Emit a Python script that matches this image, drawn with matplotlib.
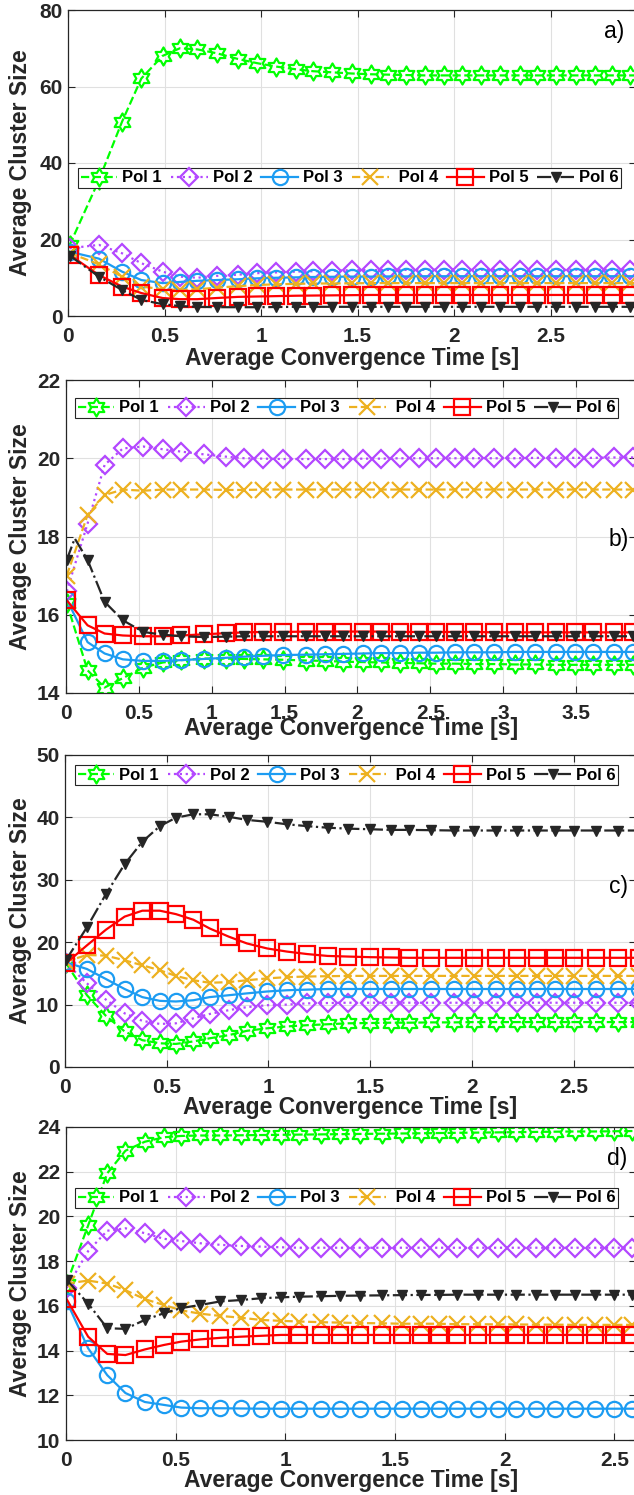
"""
average cluster size vs convergence time, four stacked panels a)-d)
output: out.png
"""

import numpy as np
import matplotlib

matplotlib.use("Agg")
import matplotlib.pyplot as plt
import matplotlib.transforms as mtransforms
from matplotlib.path import Path
from matplotlib.ticker import FuncFormatter

plt.rcParams["font.family"] = ["Liberation Sans", "DejaVu Sans"]
plt.rcParams["font.weight"] = "bold"
plt.rcParams["axes.labelweight"] = "bold"


# -- DATA --
labels = ["Pol 1", "Pol 2", "Pol 3", " Pol 4", "Pol 5", "Pol 6"]

# panel a)
x_a = [0.008, 0.16, 0.28, 0.38, 0.49, 0.58, 0.67, 0.77, 0.88, 0.98, 1.08,
       1.18, 1.27, 1.37, 1.47, 1.57, 1.66, 1.75, 1.85, 1.95, 2.04, 2.14,
       2.24, 2.34, 2.43, 2.53, 2.63, 2.73, 2.82, 2.91, 3.01]
a_pol1 = [18.5, 35.5, 50.8, 62.1, 68.0, 70.0, 69.7, 68.7, 67.2, 66.1, 65.2,
          64.5, 64.0, 63.7, 63.4, 63.2, 63.1, 63.0, 62.9, 62.9, 62.9, 62.9,
          62.9, 62.9, 62.9, 62.9, 62.9, 62.9, 62.9, 62.9, 62.9]
a_pol2 = [17.7, 18.6, 16.4, 13.8, 11.6, 10.3, 10.0, 10.5, 10.8, 11.2, 11.4,
          11.6, 11.7, 11.85, 12.0, 12.0, 12.05, 12.05, 12.1, 12.1, 12.1, 12.1,
          12.1, 12.1, 12.1, 12.1, 12.1, 12.1, 12.1, 12.1, 12.1]
a_pol3 = [16.8, 15.0, 11.6, 9.4, 8.6, 8.9, 9.2, 9.4, 9.6, 9.85, 10.0,
          10.1, 10.2, 10.25, 10.3, 10.3, 10.35, 10.35, 10.4, 10.4, 10.4, 10.4,
          10.4, 10.4, 10.4, 10.4, 10.4, 10.4, 10.4, 10.4, 10.4]
a_pol4 = [16.5, 13.5, 10.3, 7.7, 7.0, 6.8, 7.0, 7.4, 7.8, 8.1, 8.3,
          8.4, 8.5, 8.5, 8.55, 8.6, 8.6, 8.6, 8.6, 8.6, 8.6, 8.6,
          8.6, 8.6, 8.6, 8.6, 8.6, 8.6, 8.6, 8.6, 8.6]
a_pol5 = [16.0, 10.7, 7.7, 6.0, 4.7, 4.4, 4.4, 4.7, 5.0, 5.1, 5.2,
          5.3, 5.35, 5.4, 5.45, 5.5, 5.5, 5.5, 5.5, 5.5, 5.5, 5.5,
          5.5, 5.5, 5.5, 5.5, 5.5, 5.5, 5.5, 5.5, 5.5]
a_pol6 = [15.8, 10.3, 6.8, 4.2, 3.1, 2.6, 2.4, 2.3, 2.3, 2.3, 2.35,
          2.4, 2.4, 2.4, 2.4, 2.4, 2.4, 2.4, 2.4, 2.4, 2.4, 2.4,
          2.4, 2.4, 2.4, 2.4, 2.4, 2.4, 2.4, 2.4, 2.4]

# panel b)
x_b = [0.005, 0.148, 0.265, 0.39, 0.53, 0.665, 0.79, 0.945, 1.10, 1.225, 1.35,
       1.49, 1.65, 1.78, 1.90, 2.04, 2.16, 2.29, 2.42, 2.54, 2.67, 2.80,
       2.94, 3.08, 3.22, 3.36, 3.49, 3.62, 3.76, 3.89, 4.02]
b_pol1 = [16.3, 14.58, 14.14, 14.38, 14.65, 14.78, 14.84, 14.88, 14.88, 14.87, 14.86,
          14.85, 14.83, 14.82, 14.8, 14.79, 14.78, 14.77, 14.76, 14.75, 14.75, 14.74,
          14.74, 14.73, 14.73, 14.72, 14.72, 14.72, 14.72, 14.72, 14.72]
b_pol2 = [16.6, 18.33, 19.83, 20.25, 20.3, 20.23, 20.17, 20.1, 20.04, 20.0, 19.99,
          19.98, 19.98, 19.98, 19.98, 19.99, 19.99, 20.0, 20.0, 20.0, 20.0, 20.0,
          20.0, 20.0, 20.01, 20.01, 20.01, 20.01, 20.02, 20.02, 20.02]
b_pol3 = [16.4, 15.3, 15.01, 14.86, 14.82, 14.82, 14.84, 14.87, 14.9, 14.93, 14.95,
          14.97, 14.98, 14.99, 15.0, 15.01, 15.02, 15.02, 15.03, 15.03, 15.04, 15.04,
          15.04, 15.05, 15.05, 15.05, 15.05, 15.05, 15.05, 15.05, 15.05]
b_pol4 = [17.0, 18.55, 19.06, 19.2, 19.17, 19.2, 19.2, 19.2, 19.19, 19.19, 19.2,
          19.2, 19.2, 19.2, 19.2, 19.2, 19.2, 19.2, 19.2, 19.2, 19.2, 19.2,
          19.2, 19.2, 19.2, 19.2, 19.2, 19.2, 19.2, 19.2, 19.2]
b_pol5 = [16.37, 15.73, 15.52, 15.47, 15.45, 15.45, 15.47, 15.5, 15.53, 15.55, 15.56,
          15.56, 15.57, 15.57, 15.57, 15.57, 15.57, 15.56, 15.56, 15.56, 15.56, 15.56,
          15.55, 15.55, 15.55, 15.55, 15.55, 15.55, 15.55, 15.55, 15.55]
# Pol 6 in b) has an extra (unmarked) point at its early peak
x_b6 = [0.005, 0.06, 0.148, 0.265, 0.39, 0.53, 0.665, 0.79, 0.945, 1.10, 1.225,
        1.35, 1.49, 1.65, 1.78, 1.90, 2.04, 2.16, 2.29, 2.42, 2.54, 2.67,
        2.80, 2.94, 3.08, 3.22, 3.36, 3.49, 3.62, 3.76, 3.89, 4.02]
b_pol6 = [17.4, 17.95, 17.4, 16.33, 15.86, 15.56, 15.49, 15.45, 15.43, 15.44, 15.45,
          15.45, 15.45, 15.45, 15.45, 15.45, 15.45, 15.45, 15.45, 15.45, 15.45, 15.45,
          15.45, 15.45, 15.45, 15.45, 15.45, 15.45, 15.45, 15.45, 15.45, 15.45]

# panel c)
x_c = [0.004, 0.108, 0.201, 0.293, 0.380, 0.466, 0.545, 0.631, 0.711, 0.804,
       0.894, 0.993, 1.09, 1.19, 1.29, 1.39, 1.50, 1.60, 1.69, 1.80,
       1.91, 2.01, 2.12, 2.22, 2.32, 2.41, 2.50, 2.61, 2.72, 2.82]
c_pol1 = [16.7, 11.5, 8.2, 5.7, 4.3, 3.8, 3.7, 4.1, 4.6, 5.1,
          5.8, 6.2, 6.5, 6.7, 6.85, 7.0, 7.05, 7.1, 7.1, 7.15,
          7.15, 7.2, 7.2, 7.2, 7.2, 7.2, 7.2, 7.2, 7.2, 7.2]
c_pol2 = [16.7, 13.4, 10.8, 8.6, 7.4, 6.9, 7.0, 7.8, 8.5, 9.1,
          9.6, 9.9, 10.0, 10.2, 10.25, 10.3, 10.3, 10.3, 10.3, 10.3,
          10.3, 10.3, 10.3, 10.3, 10.3, 10.3, 10.3, 10.3, 10.3, 10.3]
c_pol3 = [16.8, 15.7, 14.1, 12.5, 11.2, 10.6, 10.5, 10.7, 11.2, 11.5,
          11.8, 12.1, 12.3, 12.4, 12.5, 12.5, 12.5, 12.5, 12.5, 12.5,
          12.5, 12.5, 12.5, 12.5, 12.5, 12.5, 12.5, 12.5, 12.5, 12.5]
c_pol4 = [16.9, 17.95, 17.85, 17.1, 16.3, 15.5, 14.6, 13.9, 13.5, 13.6,
          13.9, 14.2, 14.4, 14.5, 14.55, 14.6, 14.6, 14.6, 14.6, 14.6,
          14.6, 14.6, 14.6, 14.6, 14.6, 14.6, 14.6, 14.6, 14.6, 14.6]
c_pol5 = [16.6, 19.5, 22.0, 24.1, 25.05, 25.05, 24.5, 23.6, 22.2, 20.9,
          19.8, 19.0, 18.5, 18.1, 17.8, 17.7, 17.6, 17.55, 17.5, 17.5,
          17.5, 17.5, 17.5, 17.5, 17.5, 17.5, 17.5, 17.5, 17.5, 17.5]
c_pol6 = [17.1, 22.4, 27.7, 32.5, 36.1, 38.6, 39.95, 40.5, 40.5, 40.1,
          39.6, 39.3, 38.9, 38.6, 38.35, 38.2, 38.1, 38.0, 38.0, 37.95,
          37.9, 37.9, 37.9, 37.9, 37.9, 37.9, 37.9, 37.9, 37.9, 37.9]

# panel d)
x_d = [0.003, 0.101, 0.188, 0.271, 0.359, 0.446, 0.525, 0.612, 0.704, 0.796, 0.888,
       0.980, 1.06, 1.16, 1.25, 1.34, 1.44, 1.53, 1.62, 1.70, 1.78,
       1.88, 1.97, 2.05, 2.14, 2.23, 2.32, 2.41, 2.50, 2.58, 2.67]
d_pol1 = [17.0, 19.6, 21.93, 22.94, 23.34, 23.54, 23.6, 23.62, 23.62, 23.63, 23.64,
          23.65, 23.66, 23.67, 23.68, 23.69, 23.7, 23.71, 23.72, 23.73, 23.74,
          23.75, 23.76, 23.77, 23.78, 23.79, 23.8, 23.8, 23.81, 23.82, 23.82]
d_pol2 = [16.8, 18.45, 19.36, 19.47, 19.25, 19.0, 18.9, 18.8, 18.73, 18.68, 18.65,
          18.62, 18.6, 18.6, 18.6, 18.6, 18.6, 18.6, 18.6, 18.6, 18.6,
          18.6, 18.6, 18.6, 18.6, 18.6, 18.6, 18.6, 18.6, 18.6, 18.6]
d_pol3 = [16.2, 14.1, 12.9, 12.1, 11.7, 11.57, 11.45, 11.42, 11.42, 11.41, 11.4,
          11.4, 11.4, 11.4, 11.4, 11.4, 11.4, 11.4, 11.4, 11.4, 11.4,
          11.4, 11.4, 11.4, 11.4, 11.4, 11.4, 11.4, 11.4, 11.4, 11.4]
d_pol4 = [17.0, 17.13, 17.0, 16.7, 16.3, 16.04, 15.8, 15.65, 15.55, 15.47, 15.37,
          15.33, 15.3, 15.27, 15.25, 15.23, 15.22, 15.2, 15.2, 15.2, 15.18,
          15.18, 15.17, 15.17, 15.16, 15.16, 15.15, 15.15, 15.15, 15.15, 15.15]
d_pol5 = [16.3, 14.62, 13.85, 13.8, 14.05, 14.25, 14.4, 14.5, 14.57, 14.62, 14.66,
          14.7, 14.7, 14.7, 14.7, 14.7, 14.7, 14.7, 14.7, 14.7, 14.7,
          14.7, 14.7, 14.7, 14.7, 14.7, 14.7, 14.7, 14.7, 14.7, 14.7]
d_pol6 = [17.16, 16.1, 15.0, 14.97, 15.37, 15.67, 15.9, 16.04, 16.2, 16.26, 16.34,
          16.38, 16.41, 16.43, 16.45, 16.46, 16.47, 16.48, 16.49, 16.49, 16.5,
          16.5, 16.5, 16.5, 16.5, 16.5, 16.5, 16.5, 16.5, 16.5, 16.5]


# -- STYLE --
def hexagram():
    """six-pointed star outline, like MATLAB's 'hexagram' marker"""
    verts = []
    for k in range(6):
        ao = np.deg2rad(90 + 60 * k)
        ai = ao + np.deg2rad(30)
        verts.append((np.cos(ao), np.sin(ao)))
        verts.append((np.cos(ai) / np.sqrt(3), np.sin(ai) / np.sqrt(3)))
    verts.append(verts[0])
    return Path(verts, closed=True)


TEXT = "#262626"
series_style = [
    dict(color="#00FF00", ls="--", marker=hexagram(), ms=13, mfc="none", mew=1.6),
    dict(color="#B347FF", ls=":", marker="D", ms=9.5, mfc="none", mew=1.6),
    dict(color="#1C9CF2", ls="-", marker="o", ms=11, mfc="none", mew=1.6),
    dict(color="#EDB120", ls="--", marker="x", ms=12, mfc="none", mew=1.6),
    dict(color="#FF0000", ls="-", marker="s", ms=11, mfc="none", mew=1.6),
    dict(color=TEXT, ls="-.", marker="v", ms=7, mfc=TEXT, mew=1),
]

W, H = 634, 1495
fig = plt.figure(figsize=(W / 100, H / 100), dpi=100)

# layout in pixels of the reference (axes run slightly past the right edge)
panels = [
    dict(series=[(x_a, a_pol1), (x_a, a_pol2), (x_a, a_pol3), (x_a, a_pol4), (x_a, a_pol5), (x_a, a_pol6)],
         box=(68, 10, 636, 316), xmax=2.943, ylim=(0, 80), ystep=20, xtmax=2.5,
         legend=(78, 168), xlabel_top=347, letter="a)", letter_xy=(2.83, 74.5)),
    dict(series=[(x_b, b_pol1), (x_b, b_pol2), (x_b, b_pol3), (x_b, b_pol4), (x_b, b_pol5), (x_b6, b_pol6)],
         box=(66, 380, 636, 693), xmax=3.912, ylim=(14, 22), ystep=2, xtmax=3.5,
         legend=(75, 398), xlabel_top=717, letter="b)", letter_xy=(3.79, 17.93)),
    dict(series=[(x_c, c_pol1), (x_c, c_pol2), (x_c, c_pol3), (x_c, c_pol4), (x_c, c_pol5), (x_c, c_pol6)],
         box=(65, 755, 636, 1067), xmax=2.806, ylim=(0, 50), ystep=10, xtmax=2.5,
         legend=(75, 765), xlabel_top=1096, letter="c)", letter_xy=(2.72, 29.0)),
    dict(series=[(x_d, d_pol1), (x_d, d_pol2), (x_d, d_pol3), (x_d, d_pol4), (x_d, d_pol5), (x_d, d_pol6)],
         box=(66, 1127, 636, 1440), xmax=2.598, ylim=(10, 24), ystep=2, xtmax=2.5,
         legend=(75, 1188), xlabel_top=1469, letter="d)", letter_xy=(2.51, 22.57)),
]

fmt = FuncFormatter(lambda v, p: f"{v:g}")

for pnl in panels:
    l, t, r, b = pnl["box"]
    ax = fig.add_axes([l / W, 1 - b / H, (r - l) / W, (b - t) / H])

    handles = []
    for (xs, ys), st in zip(pnl["series"], series_style):
        every = None
        if xs is x_b6:
            every = [i for i in range(len(xs)) if i != 1]
        (ln,) = ax.plot(xs, ys, color=st["color"], ls=st["ls"], lw=1.6,
                        marker=st["marker"], ms=st["ms"], mfc=st["mfc"],
                        mec=st["color"], mew=st["mew"], markevery=every)
        handles.append(ln)

    ax.set_xlim(0, pnl["xmax"])
    ax.set_ylim(*pnl["ylim"])
    ax.set_xticks(np.arange(0, pnl["xtmax"] + 0.01, 0.5))
    ax.set_yticks(np.arange(pnl["ylim"][0], pnl["ylim"][1] + 0.01, pnl["ystep"]))
    ax.xaxis.set_major_formatter(fmt)
    ax.yaxis.set_major_formatter(fmt)

    ax.grid(True, color="#e0e0e0", lw=0.8)
    ax.set_axisbelow(True)
    for sp in ax.spines.values():
        sp.set_color(TEXT)
        sp.set_linewidth(0.9)
    ax.tick_params(direction="in", top=True, right=True, length=5, width=0.8,
                   color=TEXT, labelcolor=TEXT, labelsize=15)
    ax.tick_params(axis="x", pad=8)
    ax.tick_params(axis="y", pad=4)

    ax.set_xlabel("Average Convergence Time [s]", fontsize=16.5, fontweight="bold", color=TEXT)
    ax.xaxis.set_label_coords(
        0.5, 1 - pnl["xlabel_top"] / H,
        transform=mtransforms.blended_transform_factory(ax.transAxes, fig.transFigure))
    ax.set_ylabel("Average Cluster Size", fontsize=16.5, fontweight="bold", color=TEXT)
    ax.yaxis.set_label_coords(
        32.5 / W, 0.5,
        transform=mtransforms.blended_transform_factory(fig.transFigure, ax.transAxes))

    lx, ly = pnl["legend"]
    leg = ax.legend(handles, labels, loc="upper left",
                    bbox_to_anchor=(lx / W, 1 - ly / H), bbox_transform=fig.transFigure,
                    ncol=6, frameon=True, fancybox=False, framealpha=1,
                    edgecolor=TEXT, borderpad=0.15, borderaxespad=0,
                    handlelength=2.2, handletextpad=0.3, columnspacing=0.55,
                    prop=dict(size=12, weight="bold"))
    leg.get_frame().set_linewidth(0.8)

    ax.text(*pnl["letter_xy"], pnl["letter"], fontsize=16.5, fontweight="normal",
            color="black", ha="center", va="center")

fig.savefig("out.png", dpi=100)
